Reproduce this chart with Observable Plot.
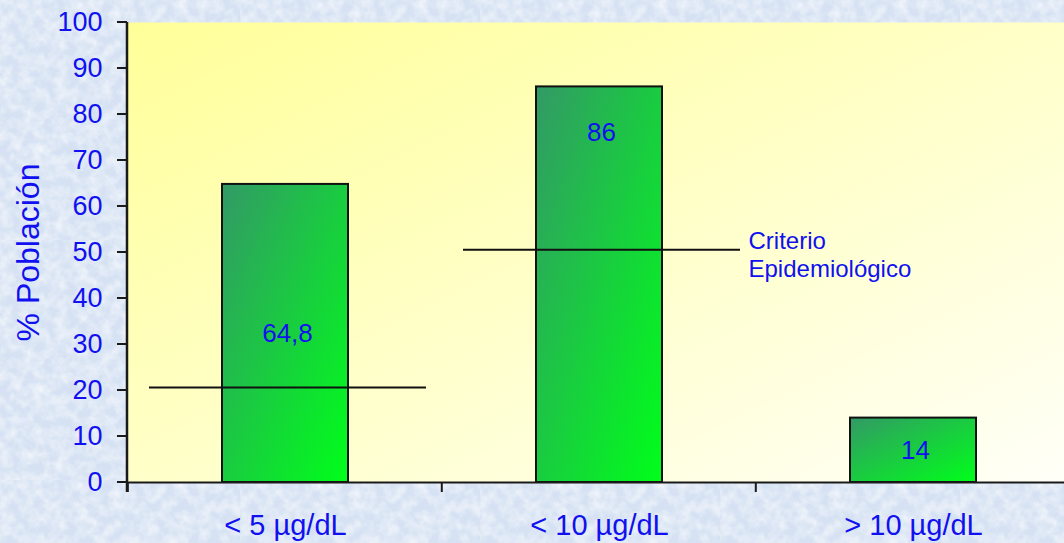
<!DOCTYPE html>
<html>
<head>
<meta charset="utf-8">
<script src="https://cdn.jsdelivr.net/npm/d3@7"></script>
<script src="https://cdn.jsdelivr.net/npm/@observablehq/plot@0.6"></script>
<style>
html, body { margin: 0; padding: 0; }
body {
  width: 1064px; height: 543px; overflow: hidden;
  background-color: #d6e2f3;
  background-image: url("data:image/svg+xml,%3Csvg xmlns='http://www.w3.org/2000/svg' width='240' height='240'%3E%3Cfilter id='n'%3E%3CfeTurbulence type='fractalNoise' baseFrequency='0.09' numOctaves='3' seed='7'/%3E%3CfeColorMatrix values='0 0 0 0 1 0 0 0 0 1 0 0 0 0 1 1.6 0 0 0 -0.55'/%3E%3C/filter%3E%3Crect width='100%25' height='100%25' filter='url(%23n)' opacity='0.75'/%3E%3C/svg%3E");
}
#chart svg { display: block; }
</style>
</head>
<body>
<div id="chart"></div>
<script>
// ---- data ----
const categories = ["< 5 µg/dL", "< 10 µg/dL", "> 10 µg/dL"];
const values = [64.8, 86, 14];
const valueLabels = ["64,8", "86", "14"];
const labelAt = [32.4, 76, 7];            // where the value labels sit (in % units)
const criterioCats = ["< 5 µg/dL", "< 10 µg/dL"];
const criterioValues = [20.65, 50.6];
const criterioLabel = "Criterio\nEpidemiológico";
const yTicks = [0, 10, 20, 30, 40, 50, 60, 70, 80, 90, 100];
const yTitle = "% Población";

const blue = "#1010f0";
const bars = categories.map((c, i) => ({cat: c, value: values[i], label: valueLabels[i], at: labelAt[i]}));
const crit = criterioCats.map((c, i) => ({cat: c, value: criterioValues[i]}));
const critNote = [{cat: criterioCats[1], value: criterioValues[1], label: criterioLabel}];

function defsMark() {
  const defs = d3.create("svg:defs");
  const bg = defs.append("linearGradient").attr("id", "plotBg")
    .attr("x1", 0).attr("y1", 0).attr("x2", 1).attr("y2", 1);
  bg.append("stop").attr("offset", 0).attr("stop-color", "#ffff99");
  bg.append("stop").attr("offset", 1).attr("stop-color", "#fffff8");
  const bar = defs.append("linearGradient").attr("id", "barGrad")
    .attr("x1", 0).attr("y1", 0).attr("x2", 1).attr("y2", 1);
  bar.append("stop").attr("offset", 0).attr("stop-color", "#339966");
  bar.append("stop").attr("offset", 1).attr("stop-color", "#00ff1a");
  return defs.node();
}

function axisLines(index, scales, values, dimensions) {
  const x = scales.x, y = scales.y;
  const step = typeof x.step === "function" ? x.step() : scales.scales.x.step;
  const pin = typeof x.paddingInner === "function" ? x.paddingInner() : scales.scales.x.paddingInner;
  const g = d3.create("svg:g").attr("stroke", "#1a1a1a");
  const y0 = y(0), yTop = y(100), left = dimensions.marginLeft;
  // x-axis ticks at category boundaries
  categories.forEach(c => {
    const bx = x(c) - pin * step / 2;
    g.append("line").attr("x1", bx).attr("x2", bx).attr("y1", y0).attr("y2", y0 + 10).attr("stroke-width", 2);
  });
  // y-axis line and ticks
  g.append("line").attr("x1", left).attr("x2", left).attr("y1", yTop).attr("y2", y0 + 10).attr("stroke-width", 2.5);
  yTicks.forEach(t => {
    g.append("line").attr("x1", left - 10).attr("x2", left).attr("y1", y(t)).attr("y2", y(t)).attr("stroke-width", 2);
  });
  return g.node();
}

const chart = Plot.plot({
  width: 1064,
  height: 543,
  marginLeft: 127,
  marginTop: 22,
  marginBottom: 61,
  marginRight: -7,
  style: {background: "transparent", fontFamily: "'Liberation Sans', Arial, sans-serif", overflow: "hidden"},
  x: {domain: categories, paddingInner: 0.6, paddingOuter: 0.3, label: null},
  y: {domain: [0, 100], label: null},
  marks: [
    defsMark,
    Plot.frame({fill: "url(#plotBg)", stroke: "none"}),
    Plot.barY(bars, {x: "cat", y: "value", fill: "url(#barGrad)", stroke: "#111", strokeWidth: 2}),
    Plot.tickY(crit, {x: "cat", y: "value", stroke: "#111", strokeWidth: 2, insetLeft: -73, insetRight: -78}),
    Plot.text(bars, {x: "cat", y: "at", text: "label", fill: blue, fontSize: 26, dx: 2}),
    Plot.text(critNote, {x: "cat", y: "value", text: "label", fill: blue, fontSize: 24,
      textAnchor: "start", lineHeight: 1.2, dx: 149, dy: 4}),
    Plot.ruleY([0], {stroke: "#1a1a1a", strokeWidth: 2}),
    axisLines,
    Plot.axisY({ticks: yTicks, tickSize: 0, tickPadding: 25, fontSize: 27, color: blue, label: null}),
    Plot.axisX({tickSize: 0, tickPadding: 32, fontSize: 29, color: blue, label: null}),
    Plot.text([yTitle], {frameAnchor: "left", textAnchor: "middle", rotate: -90, dx: -99, fontSize: 32, fill: blue})
  ]
});
document.getElementById("chart").appendChild(chart);
</script>
</body>
</html>
